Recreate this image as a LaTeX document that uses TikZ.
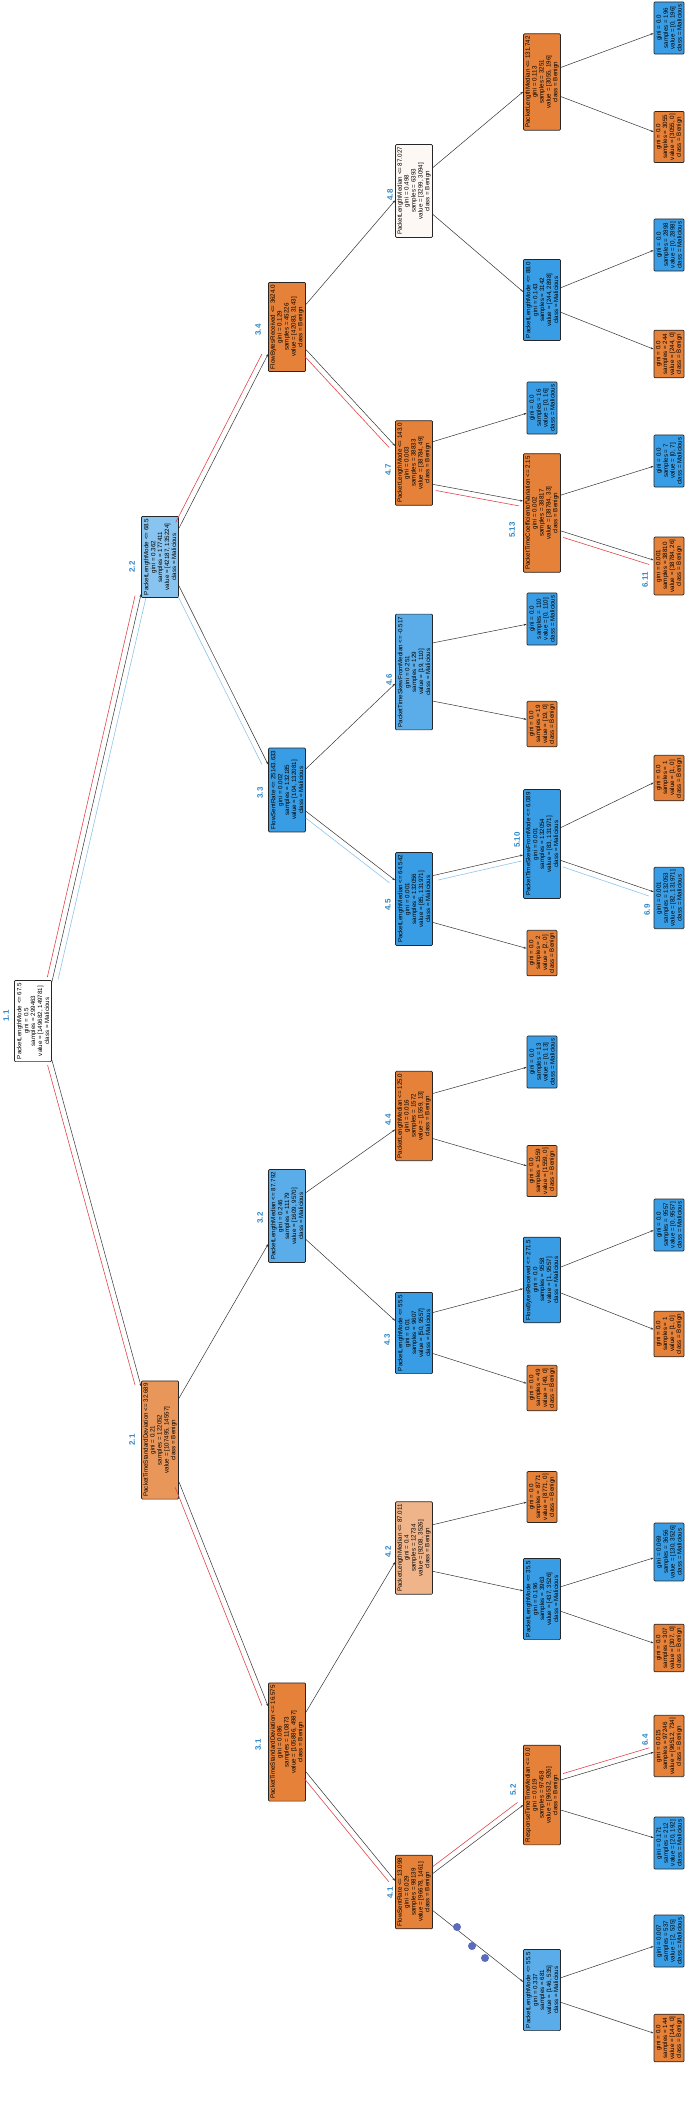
\documentclass[tikz,border=0pt]{standalone}
\usepackage{fontspec}
\setmainfont{Liberation Sans}
\usetikzlibrary{calc,arrows.meta}
\definecolor{or}{HTML}{E58139}
\definecolor{or2}{HTML}{E9965A}
\definecolor{orl}{HTML}{F0B48A}
\definecolor{bl}{HTML}{399DE5}
\definecolor{bl2}{HTML}{5BADEA}
\definecolor{bll}{HTML}{88C4EF}
\definecolor{wh}{HTML}{FDF8F4}
\definecolor{lab}{HTML}{2E86C8}
\definecolor{hred}{HTML}{E0454A}
\definecolor{hblue}{HTML}{8CC4EC}
\definecolor{dots}{HTML}{5B6BC0}
\newcommand\EU[5]{\coordinate (#1-#2-s) at ($(#1.south)!#3!(#1.south east)$);
 \coordinate (#1-#2-e) at ($(#2.north)!#4!(#2.north west)$);
 \draw[arr] (#1-#2-s) -- (#1-#2-e);}
\newcommand\EL[5]{\coordinate (#1-#2-s) at ($(#1.south)!#3!(#1.south west)$);
 \coordinate (#1-#2-e) at ($(#2.north)!#4!(#2.north east)$);
 \draw[arr] (#1-#2-s) -- (#1-#2-e);}
\newcommand\HL[3]{\draw[#1, line width=0.6pt, shorten <=4pt, shorten >=3pt] ($(#2-s)!5.5pt!#3:(#2-e)$) -- ($(#2-e)!5.5pt!-#3:(#2-s)$);}
\begin{document}
\begin{tikzpicture}[x=1pt,y=1pt,
 box/.style={draw=black!85, line width=0.7pt, rounded corners=1pt, rotate=90, align=center,
   font=\fontsize{6.2}{6.9}\selectfont, inner xsep=2.5pt, inner ysep=1pt, minimum height=37pt},
 leaf/.style={box, minimum height=30pt},
 lb/.style={text=lab, font=\fontsize{8}{8}\selectfont\bfseries, rotate=90},
 arr/.style={-{Stealth[length=3pt,width=2pt]}, black!80, line width=0.5pt}]
\useasboundingbox (0,0) rectangle (685,-2123);
% level 1
\node[box, fill=white] (n11) at (33,-1021) {PacketLengthMode <= 67.5\\gini = 0.5\\samples = 299463\\value = [149682, 149781]\\class = Malicious};
\node[lb] (l11) at (6,-1016) {1.1};
% level 2
\node[box, fill=bll] (n22) at (160,-557) {PacketLengthMode <= 68.5\\gini = 0.362\\samples = 177411\\value = [42187, 135224]\\class = Malicious};
\node[lb] (l22) at (132,-567) {2.2};
\node[box, fill=or2] (n21) at (160,-1440) {PacketTimeStandardDeviation <= 32.689\\gini = 0.21\\samples = 122052\\value = [107495, 14557]\\class = Benign};
\node[lb] (l21) at (132,-1440) {2.1};
% level 3
\node[box, fill=or] (n34) at (287,-327) {FlowBytesReceived <= 3624.0\\gini = 0.129\\samples = 45226\\value = [42083, 3143]\\class = Benign};
\node[lb] (l34) at (258,-330) {3.4};
\node[box, fill=bl] (n33) at (287,-790) {FlowSentRate <= 25143.633\\gini = 0.002\\samples = 132185\\value = [104, 132081]\\class = Malicious};
\node[lb] (l33) at (260,-793) {3.3};
\node[box, fill=bl2] (n32) at (287,-1216) {PacketLengthMedian <= 87.792\\gini = 0.246\\samples = 11179\\value = [1609, 9570]\\class = Malicious};
\node[lb] (l32) at (260,-1218) {3.2};
\node[box, fill=or] (n31) at (287,-1742) {PacketTimeStandardDeviation <= 16.575\\gini = 0.086\\samples = 110873\\value = [105886, 4987]\\class = Benign};
\node[lb] (l31) at (258,-1745) {3.1};
% level 4
\node[box, fill=wh] (n48) at (414,-191) {PacketLengthMedian <= 87.027\\gini = 0.498\\samples = 6393\\value = [3299, 3094]\\class = Benign};
\node[lb] (l48) at (390,-195) {4.8};
\node[box, fill=or] (n47) at (414,-463) {PacketLengthMode <= 143.0\\gini = 0.003\\samples = 38833\\value = [38784, 49]\\class = Benign};
\node[lb] (l47) at (388,-470) {4.7};
\node[box, fill=bl2] (n46) at (414,-672) {PacketTimeSkewFromMedian <= -0.517\\gini = 0.251\\samples = 129\\value = [19, 110]\\class = Malicious};
\node[lb] (l46) at (389,-680) {4.6};
\node[box, fill=bl] (n45) at (414,-899) {PacketLengthMedian <= 64.542\\gini = 0.001\\samples = 132056\\value = [85, 131971]\\class = Malicious};
\node[lb] (l45) at (388,-905) {4.5};
\node[box, fill=or] (n44) at (414,-1116) {PacketLengthMedian <= 125.0\\gini = 0.016\\samples = 1572\\value = [1559, 13]\\class = Benign};
\node[lb] (l44) at (388,-1120) {4.4};
\node[box, fill=bl] (n43) at (414,-1333) {PacketLengthMode <= 55.5\\gini = 0.01\\samples = 9607\\value = [50, 9557]\\class = Malicious};
\node[lb] (l43) at (387,-1340) {4.3};
\node[box, fill=orl] (n42) at (414,-1548) {PacketLengthMedian <= 87.011\\gini = 0.4\\samples = 12734\\value = [9208, 3526]\\class = Benign};
\node[lb] (l42) at (388,-1552) {4.2};
\node[box, fill=or] (n41) at (414,-1892) {FlowSentRate <= 13.098\\gini = 0.029\\samples = 98139\\value = [96678, 1461]\\class = Benign};
\node[lb] (l41) at (390,-1893) {4.1};
% level 5
\node[box, fill=or] (n5a) at (542,-82) {PacketLengthMedian <= 131.742\\gini = 0.113\\samples = 3251\\value = [3055, 196]\\class = Benign};
\node[box, fill=bl] (n5b) at (542,-300) {PacketLengthMode <= 88.0\\gini = 0.143\\samples = 3142\\value = [244, 2898]\\class = Malicious};
\node[leaf, fill=bl] (n5c) at (542,-408) {gini = 0.0\\samples = 16\\value = [0, 16]\\class = Malicious};
\node[box, fill=or] (n513) at (542,-513) {PacketTimeCoefficientofVariation <= 2.15\\gini = 0.002\\samples = 38817\\value = [38784, 33]\\class = Benign};
\node[lb] (l513) at (512,-530) {5.13};
\node[leaf, fill=bl] (n5d) at (542,-619) {gini = 0.0\\samples = 110\\value = [0, 110]\\class = Malicious};
\node[leaf, fill=or] (n5e) at (542,-724) {gini = 0.0\\samples = 19\\value = [19, 0]\\class = Benign};
\node[box, fill=bl] (n510) at (542,-844) {PacketTimeSkewFromMode <= 6.089\\gini = 0.001\\samples = 132054\\value = [83, 131971]\\class = Malicious};
\node[lb] (l510) at (517,-840) {5.10};
\node[leaf, fill=or] (n5f) at (542,-953) {gini = 0.0\\samples = 2\\value = [2, 0]\\class = Benign};
\node[leaf, fill=bl] (n5g) at (542,-1062) {gini = 0.0\\samples = 13\\value = [0, 13]\\class = Malicious};
\node[leaf, fill=or] (n5h) at (542,-1171) {gini = 0.0\\samples = 1559\\value = [1559, 0]\\class = Benign};
\node[box, fill=bl] (n5i) at (542,-1280) {FlowBytesReceived <= 271.5\\gini = 0.0\\samples = 9558\\value = [1, 9557]\\class = Malicious};
\node[leaf, fill=or] (n5j) at (542,-1388) {gini = 0.0\\samples = 49\\value = [49, 0]\\class = Benign};
\node[leaf, fill=or] (n5k) at (542,-1497) {gini = 0.0\\samples = 8771\\value = [8771, 0]\\class = Benign};
\node[box, fill=bl] (n5l) at (542,-1599) {PacketLengthMode <= 35.5\\gini = 0.196\\samples = 3963\\value = [437, 3526]\\class = Malicious};
\node[box, fill=or] (n52) at (542,-1795) {ResponseTimeTimeMedian <= 0.0\\gini = 0.019\\samples = 97458\\value = [96532, 926]\\class = Benign};
\node[lb] (l52) at (513,-1790) {5.2};
\node[box, fill=bl2] (n5m) at (542,-1990) {PacketLengthMode <= 55.5\\gini = 0.337\\samples = 681\\value = [146, 535]\\class = Malicious};
% level 6
\node[leaf, fill=bl] (n6a) at (669,-28) {gini = 0.0\\samples = 196\\value = [0, 196]\\class = Malicious};
\node[leaf, fill=or] (n6b) at (669,-137) {gini = 0.0\\samples = 3055\\value = [3055, 0]\\class = Benign};
\node[leaf, fill=bl] (n6c) at (669,-245) {gini = 0.0\\samples = 2898\\value = [0, 2898]\\class = Malicious};
\node[leaf, fill=or] (n6d) at (669,-354) {gini = 0.0\\samples = 244\\value = [244, 0]\\class = Benign};
\node[leaf, fill=bl] (n6e) at (669,-461) {gini = 0.0\\samples = 7\\value = [0, 7]\\class = Malicious};
\node[leaf, fill=or] (n611) at (669,-566) {gini = 0.001\\samples = 38810\\value = [38784, 26]\\class = Benign};
\node[lb] (l611) at (645,-580) {6.11};
\node[leaf, fill=or] (n6f) at (669,-778) {gini = 0.0\\samples = 1\\value = [1, 0]\\class = Benign};
\node[leaf, fill=bl] (n69) at (669,-898) {gini = 0.001\\samples = 132053\\value = [82, 131971]\\class = Malicious};
\node[lb] (l69) at (647,-910) {6.9};
\node[leaf, fill=bl] (n6g) at (669,-1225) {gini = 0.0\\samples = 9557\\value = [0, 9557]\\class = Malicious};
\node[leaf, fill=or] (n6h) at (669,-1334) {gini = 0.0\\samples = 1\\value = [1, 0]\\class = Benign};
\node[leaf, fill=bl] (n6i) at (669,-1552) {gini = 0.069\\samples = 3656\\value = [130, 3526]\\class = Malicious};
\node[leaf, fill=or] (n6j) at (669,-1648) {gini = 0.0\\samples = 307\\value = [307, 0]\\class = Benign};
\node[leaf, fill=or] (n64) at (669,-1746) {gini = 0.015\\samples = 97246\\value = [96512, 734]\\class = Benign};
\node[lb] (l64) at (645,-1740) {6.4};
\node[leaf, fill=bl] (n6k) at (669,-1843) {gini = 0.171\\samples = 212\\value = [20, 192]\\class = Malicious};
\node[leaf, fill=bl] (n6l) at (669,-1941) {gini = 0.007\\samples = 537\\value = [2, 535]\\class = Malicious};
\node[leaf, fill=or] (n6m) at (669,-2038) {gini = 0.0\\samples = 144\\value = [144, 0]\\class = Benign};
% edges
\EU{n11}{n22}{0.95}{0.9}{}
\EL{n11}{n21}{0.95}{0.9}{}
\EU{n22}{n34}{0.7}{0.6}{}
\EL{n22}{n33}{0.7}{0.6}{}
\EU{n21}{n32}{0.7}{0.6}{}
\EL{n21}{n31}{0.7}{0.6}{}
\EU{n34}{n48}{0.5}{0.2}{}
\EL{n34}{n47}{0.5}{0.4}{}
\EU{n33}{n46}{0.5}{0.2}{}
\EL{n33}{n45}{0.5}{0.4}{}
\EU{n32}{n44}{0.5}{0.3}{}
\EL{n32}{n43}{0.5}{0.3}{}
\EU{n31}{n42}{0.5}{0.3}{}
\EL{n31}{n41}{0.5}{0.3}{}
\EU{n48}{n5a}{0.5}{0.2}{}
\EL{n48}{n5b}{0.5}{0.2}{}
\EU{n47}{n5c}{0.5}{0.2}{}
\EL{n47}{n513}{0.5}{0.2}{}
\EU{n46}{n5d}{0.5}{0.2}{}
\EL{n46}{n5e}{0.5}{0.2}{}
\EU{n45}{n510}{0.5}{0.2}{}
\EL{n45}{n5f}{0.5}{0.2}{}
\EU{n44}{n5g}{0.5}{0.2}{}
\EL{n44}{n5h}{0.5}{0.2}{}
\EU{n43}{n5i}{0.5}{0.2}{}
\EL{n43}{n5j}{0.5}{0.2}{}
\EU{n42}{n5k}{0.5}{0.2}{}
\EL{n42}{n5l}{0.5}{0.2}{}
\EU{n41}{n52}{0.5}{0.2}{}
\EL{n41}{n5m}{0.5}{0.2}{}
\EU{n5a}{n6a}{0.3}{0.2}{}
\EL{n5a}{n6b}{0.3}{0.2}{}
\EU{n5b}{n6c}{0.3}{0.2}{}
\EL{n5b}{n6d}{0.3}{0.2}{}
\EU{n513}{n6e}{0.3}{0.2}{}
\EL{n513}{n611}{0.3}{0.2}{}
\EU{n510}{n6f}{0.3}{0.2}{}
\EL{n510}{n69}{0.3}{0.2}{}
\EU{n5i}{n6g}{0.3}{0.2}{}
\EL{n5i}{n6h}{0.3}{0.2}{}
\EU{n5l}{n6i}{0.3}{0.2}{}
\EL{n5l}{n6j}{0.3}{0.2}{}
\EU{n52}{n64}{0.3}{0.2}{}
\EL{n52}{n6k}{0.3}{0.2}{}
\EU{n5m}{n6l}{0.3}{0.2}{}
\EL{n5m}{n6m}{0.3}{0.2}{}
% highlighted paths
\HL{hred}{n11-n22}{90}
\HL{hblue}{n11-n22}{-90}
\HL{hred}{n22-n34}{90}
\HL{hred}{n34-n47}{-90}
\HL{hred}{n47-n513}{-90}
\HL{hred}{n513-n611}{-90}
\HL{hred}{n11-n21}{-90}
\HL{hred}{n21-n31}{-90}
\HL{hred}{n31-n41}{-90}
\HL{hred}{n41-n52}{90}
\HL{hred}{n52-n64}{90}
\HL{hblue}{n22-n33}{-90}
\HL{hblue}{n33-n45}{-90}
\HL{hblue}{n45-n510}{-90}
\HL{hblue}{n510-n69}{-90}
% ellipsis dots
\fill[dots] (457,-1927) circle (4) (472,-1946) circle (4) (485,-1958) circle (4);
\end{tikzpicture}
\end{document}
